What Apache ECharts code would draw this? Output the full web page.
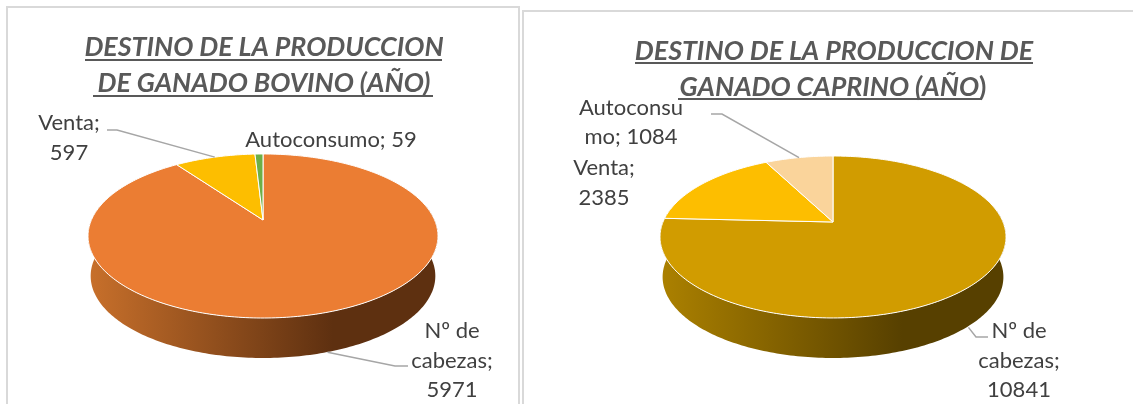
<!DOCTYPE html>
<html><head><meta charset="utf-8">
<style>html,body{margin:0;padding:0;background:#fff}#c{width:1133px;height:404px}</style>
<script src="https://cdn.jsdelivr.net/npm/echarts@6/dist/echarts.min.js"></script>
</head><body><div id="c"></div>
<script>
const categories = ['Nº de cabezas', 'Venta', 'Autoconsumo'];
const bovinoValues = [5971, 597, 59];
const caprinoValues = [10841, 2385, 1084];
const bovinoColors = ['#EB7D33', '#FDBE00', '#6DAF46'];
const caprinoColors = ['#D19C00', '#FDBE00', '#FAD49B'];
const bovinoTitle = ['DESTINO DE LA PRODUCCION', 'DE GANADO BOVINO (AÑO)'];
const caprinoTitle = ['DESTINO DE LA PRODUCCION DE', 'GANADO CAPRINO (AÑO'];

const FONT = 'Lato';
const bovinoLayout = {
  cx: 263, cy: 220, A: 171.6, B: 78.9, k: 0.195, depth: 40,
  wall: ['#C8702B', '#5E3010'],
  labels: [
    { lines: ['Nº de', 'cabezas;', '5971'], x: 452, y: [331, 361, 390], leader: [[395, 366], [408, 366]], onWall: true },
    { lines: ['Venta;', '597'], x: 69, y: [123, 153], leader: [[117, 130], [107, 130]] },
    { lines: ['Autoconsumo; 59'], x: 331, y: [140] }
  ]
};
const caprinoLayout = {
  cx: 833, cy: 222, A: 170, B: 78.2, k: 0.185, depth: 40,
  wall: ['#AC8100', '#574000'],
  labels: [
    { lines: ['Nº de', 'cabezas;', '10841'], x: 1019, y: [331, 361, 390], leader: [[976, 337], [988, 337]], onWall: true },
    { lines: ['Venta;', '2385'], x: 604, y: [168, 198] },
    { lines: ['Autoconsu', 'mo; 1084'], x: 631, y: [108, 137], leader: [[722, 114], [711, 114]] }
  ]
};

function project(L, deg, dy) {
  const t = deg * Math.PI / 180, u = Math.sin(t), v = -Math.cos(t), d = 1 - L.k * v;
  return [L.cx + L.A * u / d, L.cy + L.B * v / d + (dy || 0)];
}
function arc(L, a, b, dy) {
  const pts = [], n = Math.max(2, Math.ceil(Math.abs(b - a)));
  for (let i = 0; i <= n; i++) pts.push(project(L, a + (b - a) * i / n, dy));
  return pts;
}
function pieSeries(values, colors, L) {
  const total = values.reduce((s, x) => s + x, 0);
  return {
    type: 'custom', coordinateSystem: 'none', silent: true,
    data: values.map((v, i) => ({ name: categories[i], value: [v] })),
    clip: false,
    renderItem(params, api) {
      const i = params.dataIndex;
      let start = 0;
      for (let j = 0; j < i; j++) start += values[j];
      const a = start / total * 360, b = (start + api.value(0)) / total * 360;
      const children = [];
      const lab = L.labels[i], mid = (a + b) / 2;
      if (i === 0) {
        // side wall of the disc: front half of the rim, shifted down by the depth
        const front = arc(L, 80, 280, 0), lower = arc(L, 280, 80, L.depth)
          .map(p => [L.cx + (p[0] - L.cx) * 0.985, p[1]]);
        children.push({ type: 'polygon', shape: { points: front.concat(lower) },
          style: { fill: { type: 'linear', x: 1, y: 0, x2: 0, y2: 0, colorStops: [
            { offset: 0, color: L.wall[1] }, { offset: 0.3, color: L.wall[1] }, { offset: 1, color: L.wall[0] }] } } });
      }
      children.push({ type: 'polygon', z2: 5,
        shape: { points: [[L.cx, L.cy]].concat(arc(L, a, b)) },
        style: { fill: colors[i], stroke: '#fff', lineWidth: 1, opacity: 1 } });
      if (lab.leader) {
        const end = project(L, mid, lab.onWall ? L.depth : 0);
        children.push({ type: 'polyline', z2: 6, shape: { points: [end].concat(lab.leader) },
          style: { fill: null, stroke: '#A6A6A6', lineWidth: 1.5 } });
      }
      lab.lines.forEach((t, n) => children.push({ type: 'text', z2: 7,
        style: { text: t, x: lab.x, y: lab.y[n], fill: '#404040', font: '22px ' + FONT, textAlign: 'center', textVerticalAlign: 'middle' } }));
      return { type: 'group', children };
    }
  };
}
function rule(x1, x2, y) {
  return { type: 'rect', shape: { x: x1, y: y, width: x2 - x1, height: 2 }, style: { fill: '#595959' }, z: 3 };
}
const titleStyle = { fontFamily: FONT, fontStyle: 'italic', fontWeight: 'bold', fontSize: 26.8, color: '#595959' };
const option = {
  animation: false,
  backgroundColor: '#fff',
  title: [
    { text: bovinoTitle[0], left: 259, top: 29, textAlign: 'center', textStyle: titleStyle },
    { text: bovinoTitle[1], left: 259, top: 65, textAlign: 'center', textStyle: titleStyle },
    { text: caprinoTitle[0], left: 829, top: 33, textAlign: 'center', textStyle: titleStyle },
    { text: '{a|' + caprinoTitle[1] + '}{b|)}', left: 828, top: 69, textAlign: 'center',
      textStyle: { rich: { a: titleStyle, b: { fontFamily: FONT, fontSize: 26.8, color: '#595959' } } } }
  ],
  graphic: [
    { type: 'rect', shape: { x: 7, y: 7, width: 512, height: 420 }, style: { fill: null, stroke: '#D9D9D9', lineWidth: 2 } },
    { type: 'rect', shape: { x: 523, y: 11, width: 640, height: 420 }, style: { fill: null, stroke: '#D9D9D9', lineWidth: 2 } },
    rule(85, 442, 59), rule(93, 433, 95),
    rule(635, 1033, 62), rule(678, 982, 98)
  ],
  series: [pieSeries(bovinoValues, bovinoColors, bovinoLayout), pieSeries(caprinoValues, caprinoColors, caprinoLayout)]
};
echarts.init(document.getElementById('c')).setOption(option);
</script></body></html>
